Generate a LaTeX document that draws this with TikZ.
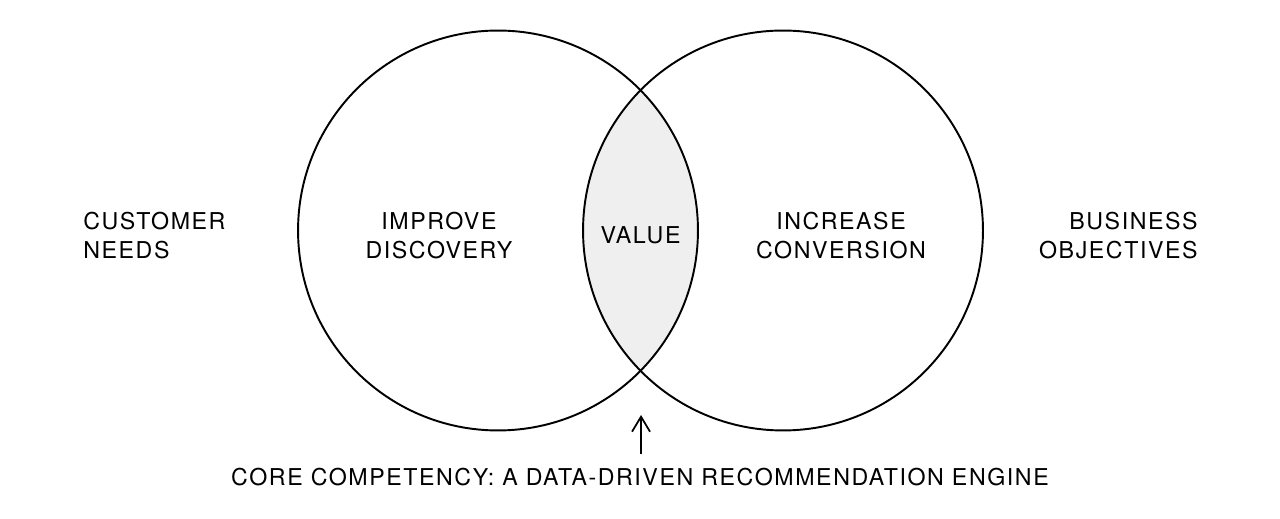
\documentclass[tikz,border=0pt]{standalone}
\usepackage{fontspec}
\setmainfont{TeX Gyre Heros}
\newfontfamily\labelfont[LetterSpace=6.8]{TeX Gyre Heros}
\usetikzlibrary{arrows.meta, positioning}
\definecolor{lensgray}{HTML}{EFEFEF}

\begin{document}
\begin{tikzpicture}[
  x=0.02cm, y=-0.02cm,
  >={Straight Barb[length=3mm, width=3.6mm]},
  ring/.style={circle, minimum size=8cm, draw=black, line width=1.1pt, inner sep=0pt},
  label/.style={font=\labelfont\fontsize{13.2}{16.5}\selectfont, align=center, inner sep=0pt},
  arr/.style={->, line width=1pt}
]
\useasboundingbox (0,0) rectangle (1280,519);

% ---- Shaded overlap ----
\begin{scope}
  \clip (498,230.5) circle (200);
  \fill[lensgray] (783,230.5) circle (200);
\end{scope}

% ---- The two circles ----
\node[ring] (needs) at (498,230.5) {};
\node[ring] (goals) at (783,230.5) {};

% ---- Labels inside ----
\node[label] (discovery) at (439,235.5) {IMPROVE\\DISCOVERY};
\node[label] (conversion) at (841,235.5) {INCREASE\\CONVERSION};
\node[label] (value) at (640.5,235) {VALUE};

% ---- Side labels ----
\node[label, align=left, anchor=west] (customer) at (83,235.5) {CUSTOMER\\NEEDS};
\node[label, align=right, anchor=east] (business) at (1198,235.5) {BUSINESS\\OBJECTIVES};

% ---- Core competency ----
\node[label] (core) at (640,477) {CORE COMPETENCY: A DATA-DRIVEN RECOMMENDATION ENGINE};
\coordinate (tip) at (641,415);
\draw[arr] (core.north -| tip) ++(0,-14) -- (tip);

\end{tikzpicture}
\end{document}
